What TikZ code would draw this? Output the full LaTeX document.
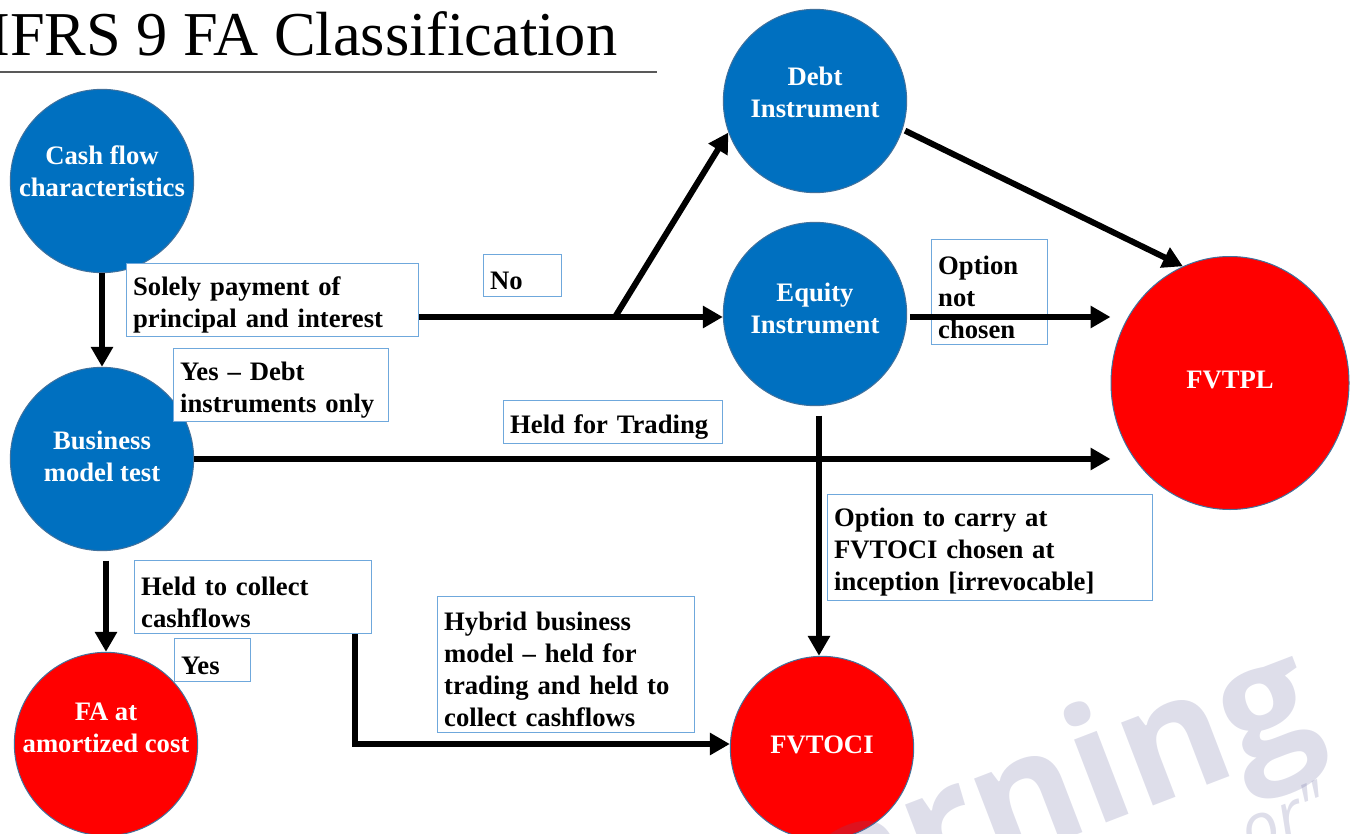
\documentclass[tikz,border=0pt]{standalone}
\usepackage{fontspec}
\setmainfont{Liberation Serif}
\newfontfamily\wmfont{Open Sans}
\usetikzlibrary{shapes.geometric,arrows.meta}
\definecolor{blueball}{RGB}{0,112,192}
\definecolor{redball}{RGB}{255,0,0}
\definecolor{ballrim}{RGB}{65,113,156}
\definecolor{boxrim}{RGB}{111,168,220}
\definecolor{wmark}{RGB}{90,90,150}
\newcommand\lup{\rule{0pt}{21.5pt}}

\begin{document}
\begin{tikzpicture}[x=0.75pt,y=0.75pt,yscale=-1,xscale=1,
    ball/.style={circle,draw=ballrim,line width=0.75pt,text=white,align=center,inner sep=-10pt,
      font=\fontsize{20}{24}\selectfont\bfseries,minimum size=137.5pt},
    lbl/.style={draw=boxrim,fill=white,line width=0.75pt,anchor=north west,align=left,
      inner xsep=5pt,inner ysep=0pt,font=\fontsize{20}{24}\selectfont\bfseries},
    conn/.style={line width=4.5pt,-{Triangle[length=15pt,width=16pt]}},
    wm/.style={text=wmark,text opacity=0.2,inner sep=0pt,anchor=base west,rotate=21}]
%set diagram size 1359 x 834
\path[use as bounding box] (0,0) rectangle (1359,834);
\clip (0,0) rectangle (1359,834);

% Title
\node (ttl) [anchor=base west,inner sep=0pt,font=\fontsize{46.8}{54}\selectfont] at (-11,56) {IFRS 9 FA Classification};
\draw [line width=1pt,color=gray!70!black] (0,72) -- (657,72);

%Shape: Circles
\node (cash) [ball,fill=blueball,text depth=15pt] at (102,181) {Cash flow\\characteristics};
\node (business) [ball,fill=blueball,text depth=4.5pt] at (102,459) {Business\\model test};
\node (amort) [ball,fill=redball,text depth=24pt] at (106,744) {FA at\\amortized cost};
\node (debt) [ball,fill=blueball,text depth=13.5pt] at (815,101) {Debt\\Instrument};
\node (equity) [ball,fill=blueball,text depth=9pt] at (815,314) {Equity\\Instrument};
\node (fvtpl) [ball,ellipse,fill=redball,minimum width=178.5pt,minimum height=189.75pt,text depth=4.5pt] at (1230,383) {FVTPL};
\node (fvtoci) [ball,fill=redball,text depth=4.5pt] at (822,748) {FVTOCI};

% Text Nodes
\node (spp) [lbl,text width=209pt,minimum height=54.75pt] at (126,263) {\lup Solely payment of\\principal and interest};
\node (yesdebt) [lbl,text width=151.25pt,minimum height=54.75pt] at (173,348) {\lup Yes -- Debt\\instruments only};
\node (no) [lbl,text width=48.5pt,minimum height=31.5pt] at (483,254) {\lup No};
\node (hft) [lbl,text width=154.25pt,minimum height=32.25pt] at (503,400) {\lup Held for Trading};
\node (optnot) [lbl,text width=77pt,minimum height=78.75pt] at (931,239) {\lup Option\\not\\chosen};
\node (optcarry) [lbl,text width=233.75pt,minimum height=79.5pt] at (827,494) {\lup Option to carry at\\FVTOCI chosen at\\inception [irrevocable]};
\node (htc) [lbl,text width=167.75pt,minimum height=54.75pt] at (134,560) {\lup Held to collect\\cashflows};
\node (yes) [lbl,text width=47pt,minimum height=32.25pt] at (174,638) {\lup Yes};
\node (hybrid) [lbl,text width=182.75pt,minimum height=102pt] at (437,596) {\lup Hybrid business\\model -- held for\\trading and held to\\collect cashflows};

\coordinate (jn) at (615,317);
\coordinate (bend) at (355,744);

% Arrows
\draw [conn] (cash) -- (business);
\draw [conn,shorten <=7pt] (business.south -| amort.north) -- (amort.north);
\draw [conn] (spp.east |- jn) -- (jn) -- (jn -| equity.west);
\draw [conn] (jn) -- (debt.200);
\draw [conn,shorten <=2pt] (debt.-18) -- (fvtpl.112);
\draw [conn,shorten <=2pt] (equity.east |- jn) -- (jn -| fvtpl.west);
\draw [conn] (business.east) -- (business.east -| fvtpl.west);
\draw [conn,shorten <=7pt] (equity.south -| 819,0) -- (819,0 |- fvtoci.north);
\draw [conn] (htc.south -| bend) -- (bend) -- (bend -| fvtoci.west);

% Watermark
\node (wmbig) [wm,font=\wmfont\bfseries\fontsize{122}{122}\selectfont] at (834,928) {arning};
\node (wmsmall) [wm,font=\wmfont\itshape\fontsize{50}{50}\selectfont] at (1250,856) {or"};
\end{tikzpicture}
\end{document}
